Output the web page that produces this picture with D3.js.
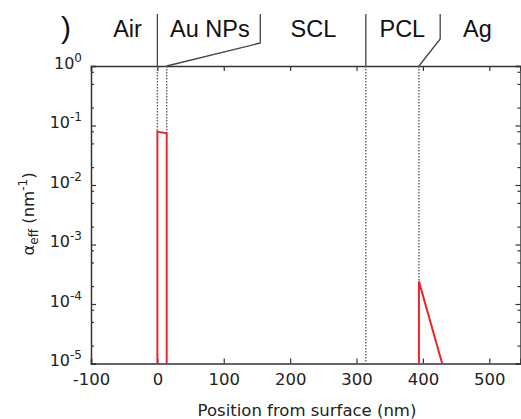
<!DOCTYPE html>
<html>
<head>
<meta charset="utf-8">
<script src="https://cdn.jsdelivr.net/npm/d3@7"></script>
<style>
  body { margin: 0; background: #fff; }
  svg { display: block; }
  .axis-text { font-family: "DejaVu Sans", sans-serif; fill: #222; }
  .layer-text { font-family: "Liberation Sans", Arial, sans-serif; fill: #111; }
</style>
</head>
<body>
<svg id="chart" width="521" height="419"></svg>
<script>
// data
const xTicks = [-100, 0, 100, 200, 300, 400, 500];
const yTicks = [1e-5, 1e-4, 1e-3, 1e-2, 1e-1, 1e0];
const yMinorFactors = [2, 5, 8];
const layerNames = ["Air", "Au NPs", "SCL", "PCL", "Ag"];
const layerLabelX = [-45, 79, 235, 369, 482];
// interfaces (nm) and where their leader lines sit above the plot
const interfaces = [0, 14, 314, 394];
const leaderX = [0, 155, 314, 426];
const leaderBendY = [null, 43, null, 39];
// how far down the dotted guide goes (value of alpha where it stops)
const guideStop = [0.079, 0.074, 1e-5, 2.4e-4];
// alpha_eff profiles (nm^-1)
const auProfile = [[0, 1e-5], [0, 0.079], [14, 0.074], [14, 1e-5]];
const agProfile = [[394, 1e-5], [394, 2.4e-4], [429, 1e-5]];

const svg = d3.select("#chart");
const mLeft = 91, mRight = 520.5, mTop = 66, mBottom = 363.5;

const x = d3.scaleLinear().domain([-100, 547]).range([mLeft, mRight]);
const y = d3.scaleLog().domain([1e-5, 1]).range([mBottom, mTop]);

const axisColor = "#333";

// minor ticks on the log axis
const minor = [];
yTicks.slice(0, -1).forEach(t => yMinorFactors.forEach(f => minor.push(t * f)));

function powLabel(sel, d) {
  const e = Math.round(Math.log10(d));
  sel.text("");
  sel.append("tspan").text("10");
  sel.append("tspan").attr("dy", -7).attr("font-size", 12).text(e);
}

// bottom axis
const gx = svg.append("g").attr("transform", `translate(0,${mBottom})`)
  .call(d3.axisBottom(x).tickValues(xTicks).tickSize(-5).tickPadding(10).tickFormat(d => String(d)));
gx.selectAll("text").attr("class", "axis-text").attr("font-size", 16.5).attr("fill", "#222");

// top axis, no labels
svg.append("g").attr("transform", `translate(0,${mTop})`)
  .call(d3.axisTop(x).tickValues(xTicks).tickSize(-5).tickFormat(""));

// left axis
const gy = svg.append("g").attr("transform", `translate(${mLeft},0)`)
  .call(d3.axisLeft(y).tickValues(yTicks).tickSize(-5).tickPadding(9).tickFormat(""));
gy.selectAll(".tick text").each(function (d) {
  d3.select(this).attr("class", "axis-text").attr("font-size", 16).attr("fill", "#222")
    .attr("dy", "0.15em").call(powLabel, d);
});
svg.append("g").attr("transform", `translate(${mLeft},0)`)
  .call(d3.axisLeft(y).tickValues(minor).tickSize(-3).tickFormat(""))
  .select(".domain").remove();

// right axis
svg.append("g").attr("transform", `translate(${mRight},0)`)
  .call(d3.axisRight(y).tickValues(yTicks).tickSize(-5).tickFormat(""));
svg.append("g").attr("transform", `translate(${mRight},0)`)
  .call(d3.axisRight(y).tickValues(minor).tickSize(-3).tickFormat(""))
  .select(".domain").remove();

svg.selectAll(".domain").attr("stroke", axisColor).attr("stroke-width", 1.5);
svg.selectAll(".tick line").attr("stroke", axisColor).attr("stroke-width", 1.2);

// dotted guides at interfaces
svg.append("g").selectAll("line")
  .data(interfaces)
  .join("line")
  .attr("x1", d => x(d)).attr("x2", d => x(d))
  .attr("y1", mTop).attr("y2", (d, i) => y(guideStop[i]))
  .attr("stroke", "#555").attr("stroke-width", 1.3)
  .attr("stroke-dasharray", "1.5,1.5");

// alpha_eff profiles
const line = d3.line().x(d => x(d[0])).y(d => y(d[1]));
svg.append("defs").append("clipPath").attr("id", "plot")
  .append("rect").attr("x", mLeft).attr("y", mTop).attr("width", mRight - mLeft).attr("height", mBottom - mTop);
svg.append("g").attr("clip-path", "url(#plot)").selectAll("path")
  .data([auProfile, agProfile])
  .join("path")
  .attr("d", line)
  .attr("fill", "none")
  .attr("stroke", "#e8262b")
  .attr("stroke-width", 2);

// layer leader lines above the plot
const leaderTop = 14;
svg.append("g").selectAll("path")
  .data(interfaces)
  .join("path")
  .attr("d", (d, i) => {
    const lx = x(leaderX[i]);
    if (leaderBendY[i] == null) return `M${lx},${leaderTop}V${mTop}`;
    return `M${lx},${leaderTop}V${leaderBendY[i]}L${x(d)},${mTop}`;
  })
  .attr("fill", "none")
  .attr("stroke", "#444")
  .attr("stroke-width", 1.3);

// layer names
svg.append("g").selectAll("text")
  .data(layerNames)
  .join("text")
  .attr("class", "layer-text")
  .attr("x", (d, i) => x(layerLabelX[i]))
  .attr("y", 37)
  .attr("text-anchor", "middle")
  .attr("font-size", 23.5)
  .text(d => d);

// leftover panel parenthesis
svg.append("text").attr("class", "layer-text")
  .attr("x", 66).attr("y", 38).attr("text-anchor", "middle")
  .attr("font-size", 30).text(")");

// axis titles
svg.append("text").attr("class", "axis-text")
  .attr("x", 307).attr("y", 416).attr("text-anchor", "middle")
  .attr("font-size", 16.5).text("Position from surface (nm)");

const yt = svg.append("text").attr("class", "axis-text")
  .attr("transform", "translate(34,214) rotate(-90)")
  .attr("text-anchor", "middle").attr("font-size", 16.5);
yt.append("tspan").text("α");
yt.append("tspan").attr("dy", 4).attr("font-size", 12).text("eff");
yt.append("tspan").attr("dy", -4).text(" (nm");
yt.append("tspan").attr("dy", -7).attr("font-size", 12).text("-1");
yt.append("tspan").attr("dy", 7).text(")");
</script>
</body>
</html>
